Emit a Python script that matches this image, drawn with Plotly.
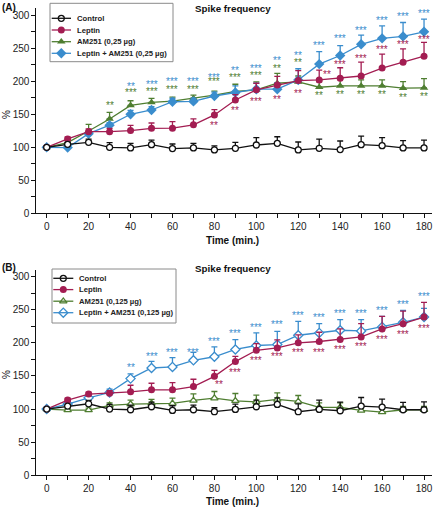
import plotly.graph_objects as go

# ---------------- data ----------------
time = [0, 10, 20, 30, 40, 50, 60, 70, 80, 90, 100, 110, 120, 130, 140, 150, 160, 170, 180]

# Panel A
ctrl_a = [100, 104.5, 107.5, 100, 99, 104, 98, 99, 96, 98.5, 103.5, 106, 96, 98.5, 96.5, 104, 102.5, 99, 99]
ctrl_a_err = [0, 3, 5, 7, 7, 7, 7, 7, 6, 9, 11, 10, 12, 14, 13, 13, 12, 11, 12]
lep_a = [100, 112.6, 123.7, 123.7, 125.3, 128.8, 129, 134, 149, 171.7, 187, 194.4, 201, 202, 204.5, 208, 220, 229, 238]
lep_a_err = [0, 3, 4, 5, 8, 8, 10, 9, 8, 8, 10, 13, 15, 15, 16, 21, 21, 20, 21]
am_a = [100, 107, 124.7, 142.9, 163.5, 168, 170, 174, 179, 184.5, 187, 197, 199, 191, 193, 193, 193, 189.6, 190]
am_a_err = [0, 3, 10, 10, 7, 6, 6, 5, 6, 11, 12, 15, 9, 8, 10, 9, 9, 10, 14]
lam_a = [100, 99.5, 120.6, 133.5, 150, 156.5, 169, 169.5, 177.7, 183, 188, 188, 202, 226, 239, 256, 265, 268, 275]
lam_a_err = [0, 2, 3, 4, 6, 5, 5, 5, 6, 10, 9, 10, 17, 19, 15, 14, 19, 21, 19]

# Panel B
ctrl_b = [100, 104.5, 108, 100, 99, 103.5, 98, 99, 96, 99.5, 103.5, 107, 96, 99.5, 97.5, 104.5, 103, 99, 99]
ctrl_b_err = [0, 3, 5, 7, 7, 7, 7, 7, 6, 8, 10, 10, 12, 14, 13, 13, 12, 11, 12]
lep_b = [100, 113.6, 122.7, 124, 126, 129, 129, 134, 149.4, 171.7, 188.8, 192.4, 200, 202, 205, 209, 221, 229, 239]
lep_b_err = [0, 3, 3, 4, 10, 10, 11, 11, 9, 8, 10, 12, 12, 14, 16, 20, 19, 19, 22]
am_b = [100, 98.5, 98.5, 105.5, 107.5, 108.5, 108.5, 113, 116.5, 112.5, 111, 114.5, 111.5, 102.5, 102.5, 98, 95.5, 99, 99]
am_b_err = [0, 2, 3, 4, 6, 6, 8, 10, 10, 11, 10, 10, 9, 7, 7, 6, 5, 5, 5]
lam_b = [100, 107.5, 117, 125, 146, 162, 163.6, 173.6, 179, 190, 196, 197.4, 211.5, 215, 219, 218, 224, 231, 239]
lam_b_err = [0, 3, 4, 5, 7, 10, 14, 12, 15, 15, 19, 20, 21, 14, 16, 17, 16, 18, 13]

# significance marks (label, time)
sig_a_lam = ["**", "***", "***", "***", "***", "**", "***", "**", "**", "***", "***", "***", "***", "***", "***"]
sig_a_lam_t = [40, 50, 60, 70, 80, 90, 100, 110, 120, 130, 140, 150, 160, 170, 180]
sig_a_am = ["**", "***", "***", "***", "***", "***", "***", "***", "**", "**", "**", "**", "**", "**", "**", "**"]
sig_a_am_t = [30, 40, 50, 60, 70, 80, 90, 100, 110, 120, 130, 140, 150, 160, 170, 180]
sig_a_lep = ["**", "**", "***", "**", "**", "**", "***", "***", "***", "***", "***"]
sig_a_lep_t = [80, 90, 100, 110, 120, 133.5, 140, 150, 160, 170, 180]
sig_b_lam = ["**", "***", "***", "***", "***", "***", "***", "***", "***", "***", "***", "***", "***", "***", "***"]
sig_b_lam_t = [40, 50, 60, 70, 80, 90, 100, 110, 120, 130, 140, 150, 160, 170, 180]
sig_b_lep = ["**", "***", "***", "***", "***", "***", "***", "***", "***", "***", "***"]
sig_b_lep_t = [82, 90, 100, 110, 120, 130, 140, 150, 160, 170, 180]

# annotation heights (y positions of the significance marks)
pos_a_lam = [194.4, 198.5, 202, 202, 209, 218.6, 223, 233.8, 242.4, 257.6, 267.6, 280, 295.5, 300.5, 305.5]
pos_a_am = [165.6, 185.8, 188, 191, 191, 202, 208.5, 212, 223, 231, 181, 183, 183, 183, 178, 180]
pos_a_lep = [135.3, 159, 171.7, 175, 185, 213, 229, 237, 251, 258.5, 266]
pos_b_lam = [165.6, 182.3, 188.8, 188.8, 205, 217, 226, 230, 244.4, 241.4, 247, 247, 251.5, 260.6, 273]
pos_b_lep = [140.3, 158.5, 176.7, 181.8, 188.8, 188.8, 193, 197.4, 208, 216, 225]

x_ticks = list(range(0, 181, 10))
x_ticktext = [str(v) if v % 20 == 0 else "" for v in x_ticks]
y_ticks = list(range(0, 301, 25))
y_ticktext = [str(v) if v % 50 == 0 else "" for v in y_ticks]

names_a = ["Control", "Leptin", "AM251 (0,25 µg)", "Leptin + AM251 (0,25 µg)"]
names_b = ["Control", "Leptin", "AM251 (0,125 µg)", "Leptin + AM251 (0,125 µg)"]

# ---------------- style ----------------
RED = "#A31D52"
GREEN = "#4F7E31"
BLUE = "#3A8DCD"
BLACK = "#111111"
FONT = "Arial, Liberation Sans, Helvetica, sans-serif"

W, H = 433, 507

fig = go.Figure()


def add_series(x, y, err, xa, ya, color, symbol, fill, size):
    fig.add_trace(go.Scatter(
        x=x, y=y, xaxis=xa, yaxis=ya, mode="lines+markers",
        line=dict(color=color, width=1.3),
        marker=dict(symbol=symbol, size=size, color=fill,
                    line=dict(color=color, width=1.3 if fill == "white" else 0)),
        error_y=dict(type="data", array=err, arrayminus=[0] * len(err), symmetric=False,
                     color=color, thickness=1.3, width=3),
        showlegend=False, hoverinfo="skip"))


# Panel A
add_series(time, am_a, am_a_err, "x", "y", GREEN, "triangle-up", GREEN, 7.5)
add_series(time, lam_a, lam_a_err, "x", "y", BLUE, "diamond", BLUE, 8)
add_series(time, lep_a, lep_a_err, "x", "y", RED, "circle", RED, 7)
add_series(time, ctrl_a, ctrl_a_err, "x", "y", BLACK, "circle", "white", 6)
# Panel B
add_series(time, am_b, am_b_err, "x2", "y2", GREEN, "triangle-up", "white", 6.5)
add_series(time, lam_b, lam_b_err, "x2", "y2", BLUE, "diamond", "white", 7)
add_series(time, lep_b, lep_b_err, "x2", "y2", RED, "circle", RED, 7)
add_series(time, ctrl_b, ctrl_b_err, "x2", "y2", BLACK, "circle", "white", 6)

annotations = []


def add_sig(labels, times, ys, xa, ya, color):
    for lab, t, yv in zip(labels, times, ys):
        annotations.append(dict(x=t, y=yv, xref=xa, yref=ya, text=lab, showarrow=False,
                                xanchor="center", yanchor="middle", yshift=-2,
                                font=dict(family=FONT, size=10, color=color)))


add_sig(sig_a_lam, sig_a_lam_t, pos_a_lam, "x", "y", BLUE)
add_sig(sig_a_am, sig_a_am_t, pos_a_am, "x", "y", GREEN)
add_sig(sig_a_lep, sig_a_lep_t, pos_a_lep, "x", "y", RED)
add_sig(sig_b_lam, sig_b_lam_t, pos_b_lam, "x2", "y2", BLUE)
add_sig(sig_b_lep, sig_b_lep_t, pos_b_lep, "x2", "y2", RED)

# ---------------- overlay pixel axes for text & legends ----------------
shapes = []


def px_text(x, y, text, size, bold=False, xanchor="center", angle=0, color="#111"):
    annotations.append(dict(x=x, y=y, xref="x3", yref="y3", text=("<b>%s</b>" % text) if bold else text,
                            showarrow=False, xanchor=xanchor, yanchor="middle", textangle=angle,
                            font=dict(family=FONT, size=size, color=color)))


for top, lab in ((0, "(A)"), (260, "(B)")):
    px_text(0, top + 7, lab, 10, bold=True, xanchor="left")
    px_text(233, top + 8, "Spike frequency", 9.8, bold=True)
    px_text(6, top + 115, "%", 10, angle=-90)
for yy in (240, 501):
    px_text(232.5, yy, "Time (min.)", 10, bold=True)

legend_specs = [
    (50, 173, 3.3, 61.7, 51.7, 71, 61.3, 75, [18.3, 30, 41.7, 53.3], names_a,
     [(BLACK, "circle", "white", 6), (RED, "circle", RED, 7), (GREEN, "triangle-up", GREEN, 7.5),
      (BLUE, "diamond", BLUE, 8)]),
    (52, 176, 269, 323, 53.3, 73.3, 63.3, 76.7, [278.3, 289.6, 301.2, 312.7], names_b,
     [(BLACK, "circle", "white", 6), (RED, "circle", RED, 7), (GREEN, "triangle-up", "white", 6.5),
      (BLUE, "diamond", "white", 7)]),
]
for bx0, bx1, by0, by1, lx0, lx1, mx, tx, rows, names, styles in legend_specs:
    shapes.append(dict(type="rect", xref="x3", yref="y3", x0=bx0, x1=bx1, y0=by0, y1=by1,
                       line=dict(color="#8a8a8a", width=1), fillcolor="white", layer="below"))
    for ry, nm, (col, sym, fill, sz) in zip(rows, names, styles):
        shapes.append(dict(type="line", xref="x3", yref="y3", x0=lx0, x1=lx1, y0=ry, y1=ry,
                           line=dict(color=col, width=1.3)))
        fig.add_trace(go.Scatter(x=[mx], y=[ry], xaxis="x3", yaxis="y3", mode="markers",
                                 marker=dict(symbol=sym, size=sz, color=fill,
                                             line=dict(color=col, width=1.3 if fill == "white" else 0)),
                                 showlegend=False, hoverinfo="skip"))
        px_text(tx, ry, nm, 7.7, bold=True, xanchor="left", color="#222")

xaxis_common = dict(range=[-5.1, 183.8], tickmode="array", tickvals=x_ticks, ticktext=x_ticktext,
                    ticks="outside", ticklen=4, tickwidth=1, tickcolor=BLACK,
                    showline=True, linecolor=BLACK, linewidth=1.3, showgrid=False, zeroline=False,
                    tickfont=dict(family=FONT, size=10, color="#222"), fixedrange=True,
                    domain=[36 / W, 432 / W], automargin=False)
yaxis_common = dict(tickmode="array", tickvals=y_ticks, ticktext=y_ticktext,
                    ticks="outside", ticklen=3.5, tickwidth=1, tickcolor=BLACK,
                    showline=True, linecolor=BLACK, linewidth=1.3, showgrid=False, zeroline=False,
                    tickfont=dict(family=FONT, size=10, color="#222"), fixedrange=True, automargin=False)

fig.update_layout(
    width=W, height=H,
    margin=dict(l=0, r=0, t=0, b=0),
    paper_bgcolor="white", plot_bgcolor="rgba(0,0,0,0)",
    showlegend=False,
    xaxis=dict(xaxis_common, anchor="y"),
    yaxis=dict(yaxis_common, anchor="x", range=[0, 311], domain=[1 - 213.3 / H, 1 - 8 / H]),
    xaxis2=dict(xaxis_common, anchor="y2"),
    yaxis2=dict(yaxis_common, anchor="x2", range=[0, 310], domain=[1 - 475.3 / H, 1 - 270 / H]),
    xaxis3=dict(domain=[0, 1], range=[0, W], visible=False, anchor="y3", fixedrange=True),
    yaxis3=dict(domain=[0, 1], range=[H, 0], visible=False, anchor="x3", fixedrange=True),
    annotations=annotations,
    shapes=shapes,
)

fig.write_html("out.html", config={"displayModeBar": False},
               post_script="document.body.style.margin='0px';document.body.style.padding='0px';")
